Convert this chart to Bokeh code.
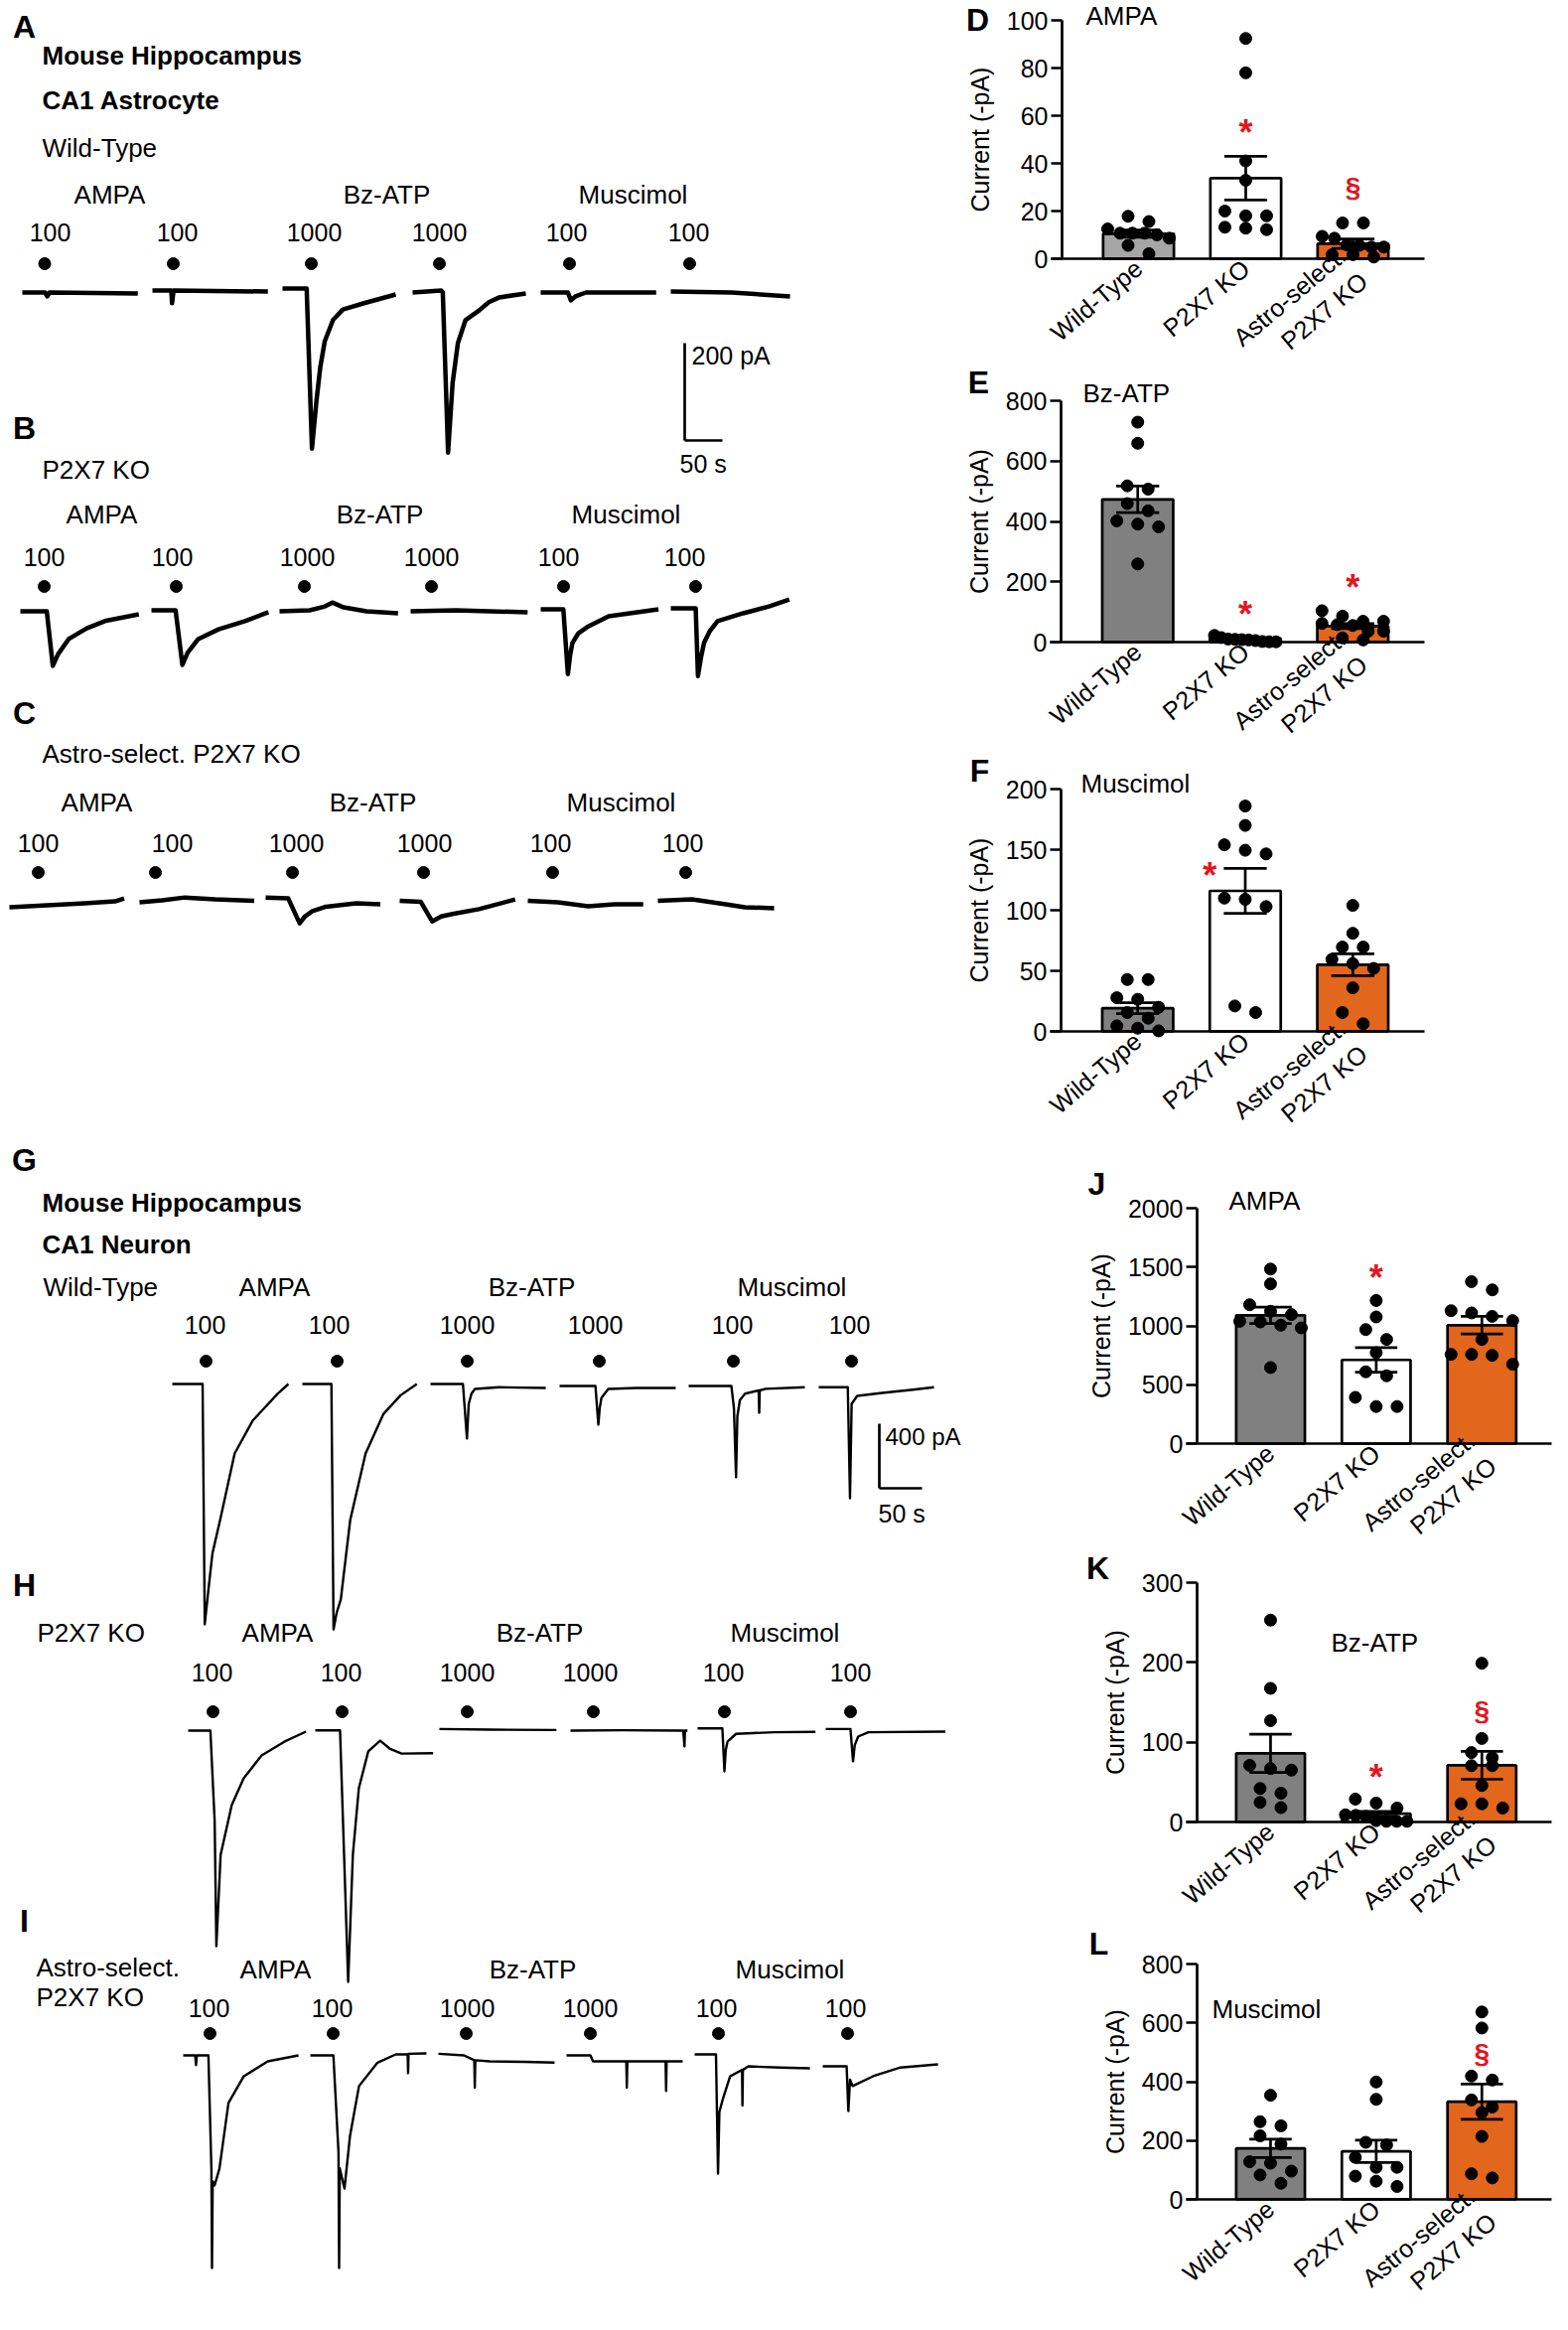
import numpy as np
from bokeh.plotting import figure
from bokeh.models import Range1d, FixedTicker, LinearAxis
from bokeh.layouts import row, column
from bokeh.embed import file_html
from bokeh.resources import INLINE
from bokeh.core.properties import value

FONT = "Liberation Sans"

# ---------------- categories ----------------
groups = ["Wild-Type", "P2X7 KO", "Astro-select.\nP2X7 KO"]
drugs = ["AMPA", "Bz-ATP", "Muscimol"]
doses = ["100", "100", "1000", "1000", "100", "100"]

# ---------------- bar-chart data (current, -pA) ----------------
d_wt = [17.8, 15.6, 12.5, 10.7, 10.7, 10.7, 10.0, 8.6, 5.6, 2.1]
d_ko = [92.4, 78.0, 41.0, 32.9, 20.0, 18.0, 18.0, 13.2, 12.8, 12.2]
d_as = [15.0, 15.0, 9.4, 8.6, 5.8, 5.6, 4.9, 4.9, 1.7, 1.7, 0.7]
d_mean = [10.5, 33.8, 6.3]
d_sem = [1.5, 9.2, 2.0]

e_wt = [729, 659, 518, 507, 459, 435, 402, 391, 382, 259]
e_ko = [22, 15, 10, 9, 8, 7, 5, 2, 1, 1]
e_as = [104, 86, 69, 69, 62, 58, 55, 36, 36, 14, 7]
e_mean = [473, 12, 53]
e_sem = [44, 2, 8]

f_wt = [42.8, 42.8, 27.8, 26.5, 19.9, 15.6, 10.9, 4.6, 2.7, 0.5]
f_ko = [186, 170, 154, 149.5, 146.5, 110, 109, 103, 21, 15.6]
f_as = [104, 81, 69.6, 69.6, 59.5, 56, 52, 36, 15.6, 6.3]
f_mean = [19.2, 116, 55]
f_sem = [4.5, 18.5, 9]

j_wt = [1483, 1357, 1180, 1124, 1096, 1039, 1034, 1006, 983, 646]
j_ko = [1216, 1076, 969, 885, 772, 610, 576, 393, 315, 315]
j_as = [1376, 1306, 1129, 1110, 1081, 1045, 885, 758, 758, 750, 674]
j_mean = [1090, 711, 1006]
j_sem = [70, 104, 75]

k_wt = [253, 167.5, 127, 71, 67, 65, 42, 36, 24.5, 18]
k_ko = [28.7, 23.7, 17.5, 9, 8.3, 7, 1.7, 0.8, 0.8, 0.8]
k_as = [199, 104.7, 87, 80.6, 70.6, 70.6, 45.7, 22.8, 22.8, 17.5]
k_mean = [86, 10.4, 71]
k_sem = [24, 3, 17.5]

l_wt = [354, 264, 250, 216, 188, 128, 123, 96, 83, 55]
l_ko = [399, 340, 194, 185, 143, 109, 109, 79, 62, 44]
l_as = [637, 582.5, 419, 405.6, 338, 314, 295, 214, 87, 73]
l_mean = [173.5, 163, 332]
l_sem = [31, 38, 60]

# significance marks: (symbol, group position, value)
d_marks = [("*", 2, 55.5), ("§", 3, 30)]
e_marks = [("*", 2, 113), ("*", 3, 201)]
f_marks = [("*", 1.67, 133.7)]
j_marks = [("*", 2, 1461)]
k_marks = [("*", 2, 63), ("§", 3, 140)]
l_marks = [("§", 3, 496)]

# ---------------- trace data (t in s from segment start, current in pA) ----------------
A_t = [[0, 30, 33, 36, 153], [0, 25, 26, 28, 153],
       [0, 32, 39, 45, 50, 56, 67, 80, 108, 150],
       [0, 38, 40, 47, 53, 60, 70, 88, 101, 115, 150],
       [0, 36, 40, 46, 60, 153], [0, 80, 158]]
A_i = [[0, 0, -8, 0, -2], [4, 4, -22, 4, 2],
       [8, 8, -321, -222, -154, -100, -56, -35, -22, -4],
       [0, 4, 0, -329, -186, -104, -57, -37, -20, -10, -2],
       [0, 0, -16, -8, 0, 0], [2, 0, -8]]

B_t = [[0, 35, 43, 50, 64, 88, 112, 157], [0, 32, 41, 48, 62, 89, 124, 155],
       [0, 40, 60, 70, 85, 115, 157], [0, 60, 155],
       [0, 30, 36, 39, 42, 50, 63, 90, 156], [0, 33, 36, 40, 44, 52, 62, 96, 130, 157]]
B_i = [[0, 0, -112, -88, -57, -35, -20, -6], [2, 2, -110, -85, -57, -37, -20, -2],
       [0, 2, 10, 18, 8, 0, -4], [0, 2, -2],
       [4, 4, -129, -90, -65, -45, -31, -10, 4], [6, 6, -133, -95, -65, -40, -20, -4, 10, 24]]

C_t = [[0, 50, 100, 140, 152], [0, 30, 60, 100, 152],
       [0, 30, 45, 52, 62, 80, 120, 152], [0, 28, 43, 55, 70, 105, 153],
       [0, 40, 80, 115, 153], [0, 45, 90, 115, 154]]
C_i = [[-6, -2, 2, 6, 12], [4, 8, 14, 10, 7],
       [14, 12, -39, -25, -14, -5, 2, 0], [7, 5, -35, -25, -20, -10, 10],
       [7, 4, -4, 0, 0], [7, 10, 0, -6, -8]]

G_t = [[0, 35.5, 38, 42, 47, 56, 73, 94, 123, 136],
       [0, 34, 36.5, 40, 45, 56, 74, 95, 115, 134],
       [0, 38, 42.7, 44.8, 48, 52, 80, 135],
       [0, 42, 45.4, 47, 49, 57, 90, 136],
       [0, 50, 53, 55.5, 57, 60, 66, 82, 82.6, 83.2, 90, 136],
       [0, 34, 36.6, 38.5, 45, 74, 110, 135]]
G_i = [[0, 0, -1489, -1290, -1050, -843, -431, -228, -62, 0],
       [0, 0, -1520, -1420, -1335, -843, -431, -185, -70, 0],
       [0, 0, -338, -123, -60, -31, -20, -25],
       [-12, -12, -252, -150, -86, -31, -25, -25],
       [-12, -12, -150, -578, -200, -100, -60, -40, -178, -40, -30, -20],
       [-20, -20, -708, -123, -74, -55, -35, -20]]

H_t = [[0, 26, 31, 33, 38, 51, 65, 86, 115, 138],
       [0, 29, 38.5, 44, 51, 62, 76, 87, 101, 138],
       [0, 60, 137], [0, 60, 132, 133.5, 134, 137],
       [0, 29, 31.4, 33, 35, 45, 90, 138], [0, 29, 32, 34, 38, 50, 140]]
H_i = [[0, 0, -560, -1335, -769, -462, -295, -154, -62, -6],
       [2, 2, -1557, -769, -357, -129, -62, -111, -142, -140],
       [10, 6, 4], [0, 2, 0, -98, 0, 0],
       [14, 14, -252, -120, -68, -20, -10, -8], [10, 10, -190, -90, -37, -10, -6]]

I_t = [[0, 14, 15, 16, 29.5, 33, 33.7, 34.5, 36.7, 42.4, 53, 71, 99, 135],
       [0, 27, 33, 33.7, 34.5, 40, 46.5, 57, 78.7, 100, 114, 114.5, 115, 136],
       [0, 30, 42, 42.6, 43.2, 60, 100, 136],
       [0, 28, 31, 70, 70.6, 71.2, 116, 116.6, 117.2, 136],
       [0, 25, 27.4, 29, 33, 41.6, 55.5, 56, 56.5, 62.8, 100, 135],
       [0, 28, 30, 32, 35, 59, 91, 135]]
I_i = [[0, 0, -60, 0, 0, -700, -1317, -780, -806, -702, -295, -129, -37, 0],
       [0, 0, -600, -1317, -700, -825, -498, -190, -45, 6, 6, -110, 10, 12],
       [10, 0, -30, -200, -30, -37, -40, -45],
       [0, 0, -37, -37, -200, -37, -37, -220, -37, -37],
       [6, 6, -732, -350, -271, -129, -90, -310, -90, -68, -75, -80],
       [-68, -68, -345, -150, -190, -129, -75, -55]]

TXT = "26px"
NUM = "25px"
LET = "32px"


# ---------------- helpers ----------------
def bare_fig(width, height, xr, yr):
    p = figure(width=width, height=height, x_range=Range1d(*xr), y_range=Range1d(*yr),
               output_backend="svg", toolbar_location=None,
               min_border=0, outline_line_color=None, title=None,
               x_axis_location=None, y_axis_location=None)
    p.grid.visible = False
    try:
        p.frame_align = False
    except Exception:
        pass
    return p


def add_text(p, xs, ys, texts, size=TXT, align="center", style="normal", color="black"):
    p.text(x=xs, y=ys, text=texts, text_font=value(FONT), text_font_size=size,
           text_align=align, text_baseline="middle", text_font_style=style, text_color=color)


def trace_panel(p, X, Y, starts, base, T, I, lw):
    for s, t, i in zip(starts, T, I):
        p.line(x=X(s) + np.array(t, float), y=Y(base) + np.array(i, float),
               line_color="black", line_width=lw, line_join="round")


def swarm(vals, ppx, ppy, d=12.0, step=21.0, maxw=62.0):
    vals = np.array(vals, float)
    order = np.argsort(-vals, kind="stable")
    rows = []
    for i in order:
        if rows and abs(vals[rows[-1][0]] - vals[i]) * ppy < d:
            rows[-1].append(i)
        else:
            rows.append([i])
    offs = np.zeros(len(vals))
    for r in rows:
        n = len(r)
        if n > 1:
            s = min(step, maxw / (n - 1))
            for k, i in enumerate(r):
                offs[i] = (k - (n - 1) / 2) * s / ppx
    return offs


LEFT_W = 972
RIGHT_X = 972
RIGHT_W = 1579 - 972


def bar_chart(fig_top, fig_bot, fr_top, fr_bot, fr_left, fr_right, xr, ymax, ticks,
              pts, means, sems, title, title_xy, letter, letter_xy, marks,
              wt_fill="#808080", bw=0.66):
    H = fig_bot - fig_top
    ppx = (fr_right - fr_left) / (xr[1] - xr[0])
    ppy = (fr_bot - fr_top) / ymax

    def dx(Fx):
        return xr[0] + (Fx - fr_left) / ppx

    def dy(Fy):
        return (fr_bot - Fy) / ppy

    p = bare_fig(RIGHT_W, H, (dx(RIGHT_X), dx(RIGHT_X + RIGHT_W)), (dy(fig_bot), dy(fig_top)))
    xs = [1, 2, 3]
    fills = [wt_fill, "#ffffff", "#e2661c"]
    p.vbar(x=xs, top=means, bottom=0, width=bw, fill_color=fills, line_color="black", line_width=2.7)
    for k in range(3):
        offs = swarm(pts[k], ppx, ppy)
        p.scatter(x=list(k + 1 + offs), y=pts[k], size=12, fill_color="black", line_color="black")
    lo = [m - s for m, s in zip(means, sems)]
    hi = [m + s for m, s in zip(means, sems)]
    cap = 0.2
    p.segment(x0=xs, y0=lo, x1=xs, y1=hi, line_color="black", line_width=2.7)
    p.segment(x0=[x - cap for x in xs], y0=hi, x1=[x + cap for x in xs], y1=hi, line_color="black", line_width=2.7)
    p.segment(x0=[x - cap for x in xs], y0=lo, x1=[x + cap for x in xs], y1=lo, line_color="black", line_width=2.7)

    stars = [m for m in marks if m[0] == "*"]
    secs = [m for m in marks if m[0] == "§"]
    if stars:
        p.text(x=[m[1] for m in stars], y=[m[2] for m in stars], text=["*"] * len(stars),
               text_color="#e3161e", text_font=value(FONT), text_font_style="bold",
               text_font_size="36px", text_align="center", text_baseline="alphabetic", y_offset=6)
    if secs:
        p.text(x=[m[1] for m in secs], y=[m[2] for m in secs], text=["§"] * len(secs),
               text_color="#e3161e", text_font=value(FONT), text_font_style="bold",
               text_font_size="28px", text_align="center", text_baseline="middle")

    xax = LinearAxis(fixed_location=0, bounds=(dx(fr_left - 11), xr[1]),
                     ticker=FixedTicker(ticks=xs),
                     major_label_overrides={1: groups[0], 2: groups[1], 3: groups[2]},
                     major_label_orientation=0.70, major_label_standoff=6,
                     major_tick_in=0, major_tick_out=0)
    yax = LinearAxis(fixed_location=xr[0], bounds=(0, ymax), ticker=FixedTicker(ticks=ticks),
                     major_tick_in=0, major_tick_out=11, major_label_standoff=3,
                     axis_label="Current (-pA)", axis_label_standoff=10)
    for ax in (xax, yax):
        ax.axis_line_width = 2.7
        ax.axis_line_color = "black"
        ax.major_tick_line_width = 2.7
        ax.major_tick_line_color = "black"
        ax.minor_tick_line_color = None
        ax.major_label_text_font = FONT
        ax.major_label_text_font_size = NUM
        ax.major_label_text_color = "black"
        ax.axis_label_text_font = FONT
        ax.axis_label_text_font_size = NUM
        ax.axis_label_text_font_style = "normal"
        ax.axis_label_text_color = "black"
    p.add_layout(xax, "below")
    p.add_layout(yax, "left")

    add_text(p, [dx(title_xy[0])], [dy(title_xy[1])], [title], align="left")
    add_text(p, [dx(letter_xy[0])], [dy(letter_xy[1])], [letter], size=LET, style="bold")
    return p


# ---------------- astrocyte traces (A-C) ----------------
AC_TOP, AC_BOT = 0, 1140
SXA, SYA = 0.76, 0.49
pAC = bare_fig(LEFT_W, AC_BOT - AC_TOP, (0, LEFT_W / SXA), (-(AC_BOT - AC_TOP) / SYA, 0))
XA = lambda F: F / SXA
YA = lambda F: -(F - AC_TOP) / SYA
XAv = lambda L: [XA(v) for v in L]
YAv = lambda L: [YA(v) for v in L]

add_text(pAC, XAv([24, 24, 24]), YAv([26, 430, 717]), ["A", "B", "C"], size=LET, style="bold")
add_text(pAC, XAv([42, 42]), YAv([55, 100]), ["Mouse Hippocampus", "CA1 Astrocyte"], align="left", style="bold")
add_text(pAC, XAv([42, 42, 42]), YAv([148, 472, 758]), ["Wild-Type", "P2X7 KO", "Astro-select. P2X7 KO"], align="left")
add_text(pAC, XAv([110, 389, 637]), YAv([195] * 3), drugs)
add_text(pAC, XAv([102, 382, 630]), YAv([517] * 3), drugs)
add_text(pAC, XAv([97, 375, 625]), YAv([807] * 3), drugs)
add_text(pAC, XAv([50, 178, 316, 442, 570, 693]), YAv([233] * 6), doses, size=NUM)
add_text(pAC, XAv([44, 173, 309, 434, 562, 689]), YAv([560] * 6), doses, size=NUM)
add_text(pAC, XAv([38, 173, 298, 427, 554, 687]), YAv([848] * 6), doses, size=NUM)
pAC.scatter(x=XAv([44.5, 174, 313, 442, 573, 694]), y=YAv([265] * 6), size=12, color="black")
pAC.scatter(x=XAv([44, 177, 306, 434, 567, 700]), y=YAv([590] * 6), size=12, color="black")
pAC.scatter(x=XAv([38, 156, 294, 426, 556, 690]), y=YAv([878] * 6), size=12, color="black")
trace_panel(pAC, XA, YA, [22, 153, 284, 415, 544, 675], 294, A_t, A_i, 4.5)
trace_panel(pAC, XA, YA, [20, 152, 281, 413, 544, 675], 615, B_t, B_i, 4.5)
trace_panel(pAC, XA, YA, [9, 140, 267, 402, 531, 662], 910, C_t, C_i, 4.5)
# scale bar 200 pA / 50 s
pAC.line(x=[XA(689), XA(689)], y=[YA(443) + 200, YA(443)], line_color="black", line_width=2.7)
pAC.line(x=[XA(689), XA(689) + 50], y=[YA(443), YA(443)], line_color="black", line_width=2.7)
add_text(pAC, [XA(696)], [YA(357)], ["200 pA"], align="left", size=NUM)
add_text(pAC, [XA(684)], [YA(466)], ["50 s"], align="left", size=NUM)

# ---------------- neuron traces (G-I) ----------------
GI_TOP, GI_BOT = 1140, 2346
SXG, SYG = 0.86, 0.1625
pGI = bare_fig(LEFT_W, GI_BOT - GI_TOP, (0, LEFT_W / SXG), (-(GI_BOT - GI_TOP) / SYG, 0))
XG = lambda F: F / SXG
YG = lambda F: -(F - GI_TOP) / SYG
XGv = lambda L: [XG(v) for v in L]
YGv = lambda L: [YG(v) for v in L]

add_text(pGI, XGv([24, 24, 24]), YGv([1167, 1595, 1933]), ["G", "H", "I"], size=LET, style="bold")
add_text(pGI, XGv([42, 42]), YGv([1210, 1252]), ["Mouse Hippocampus", "CA1 Neuron"], align="left", style="bold")
add_text(pGI, XGv([43, 37, 36, 36]), YGv([1295, 1643, 1980, 2010]),
         ["Wild-Type", "P2X7 KO", "Astro-select.", "P2X7 KO"], align="left")
add_text(pGI, XGv([276, 535, 797]), YGv([1295] * 3), drugs)
add_text(pGI, XGv([279, 543, 790]), YGv([1643] * 3), drugs)
add_text(pGI, XGv([277, 536, 795]), YGv([1982] * 3), drugs)
add_text(pGI, XGv([206, 331, 470, 599, 737, 855]), YGv([1333] * 6), doses, size=NUM)
add_text(pGI, XGv([213, 343, 470, 594, 728, 856]), YGv([1683] * 6), doses, size=NUM)
add_text(pGI, XGv([210, 334, 470, 594, 721, 851]), YGv([2021] * 6), doses, size=NUM)
pGI.scatter(x=XGv([207, 339, 470, 603, 738, 857]), y=YGv([1370] * 6), size=12, color="black")
pGI.scatter(x=XGv([214, 344, 470, 597, 729, 856]), y=YGv([1723] * 6), size=12, color="black")
pGI.scatter(x=XGv([211, 335, 469, 594, 723, 853]), y=YGv([2047] * 6), size=12, color="black")
trace_panel(pGI, XG, YG, [173, 304, 433, 563, 693, 824], 1393, G_t, G_i, 2.4)
trace_panel(pGI, XG, YG, [189, 317, 442, 574, 702, 831], 1742, H_t, H_i, 2.4)
trace_panel(pGI, XG, YG, [184, 312, 441, 570, 699, 828], 2069, I_t, I_i, 2.4)
# scale bar 400 pA / 50 s
pGI.line(x=[XG(885), XG(885)], y=[YG(1498) + 400, YG(1498)], line_color="black", line_width=2.7)
pGI.line(x=[XG(885), XG(885) + 50], y=[YG(1498), YG(1498)], line_color="black", line_width=2.7)
add_text(pGI, [XG(891)], [YG(1446)], ["400 pA"], align="left", size="24px")
add_text(pGI, [XG(884)], [YG(1523)], ["50 s"], align="left", size=NUM)

# ---------------- bar charts ----------------
XR1 = (0.287, 3.667)
XR2 = (0.305, 3.66)
pD = bar_chart(0, 362, 20, 260, 1069, 1434, XR1, 100, [0, 20, 40, 60, 80, 100],
               [d_wt, d_ko, d_as], d_mean, d_sem, "AMPA", (1093, 15), "D", (984, 19), d_marks,
               wt_fill="#a6a6a6")
pE = bar_chart(362, 750, 403, 646, 1068, 1434, XR1, 800, [0, 200, 400, 600, 800],
               [e_wt, e_ko, e_as], e_mean, e_sem, "Bz-ATP", (1090, 395), "E", (985, 384), e_marks)
pF = bar_chart(750, 1172, 794, 1038, 1068, 1434, XR1, 200, [0, 50, 100, 150, 200],
               [f_wt, f_ko, f_as], f_mean, f_sem, "Muscimol", (1088, 788), "F", (986, 775), f_marks)
pJ = bar_chart(1172, 1552, 1216, 1453, 1205, 1562, XR2, 2000, [0, 500, 1000, 1500, 2000],
               [j_wt, j_ko, j_as], j_mean, j_sem, "AMPA", (1237, 1208), "J", (1104, 1191), j_marks, bw=0.65)
pK = bar_chart(1552, 1932, 1593, 1834, 1205, 1562, XR2, 300, [0, 100, 200, 300],
               [k_wt, k_ko, k_as], k_mean, k_sem, "Bz-ATP", (1340, 1653), "K", (1105, 1578), k_marks, bw=0.65)
pL = bar_chart(1932, 2346, 1977, 2214, 1205, 1562, XR2, 800, [0, 200, 400, 600, 800],
               [l_wt, l_ko, l_as], l_mean, l_sem, "Muscimol", (1220, 2022), "L", (1106, 1956), l_marks, bw=0.65)

page = row(column(pAC, pGI, spacing=0), column(pD, pE, pF, pJ, pK, pL, spacing=0), spacing=0)

with open("out.html", "w") as fh:
    fh.write(file_html(page, INLINE, "P2X7 figure"))
